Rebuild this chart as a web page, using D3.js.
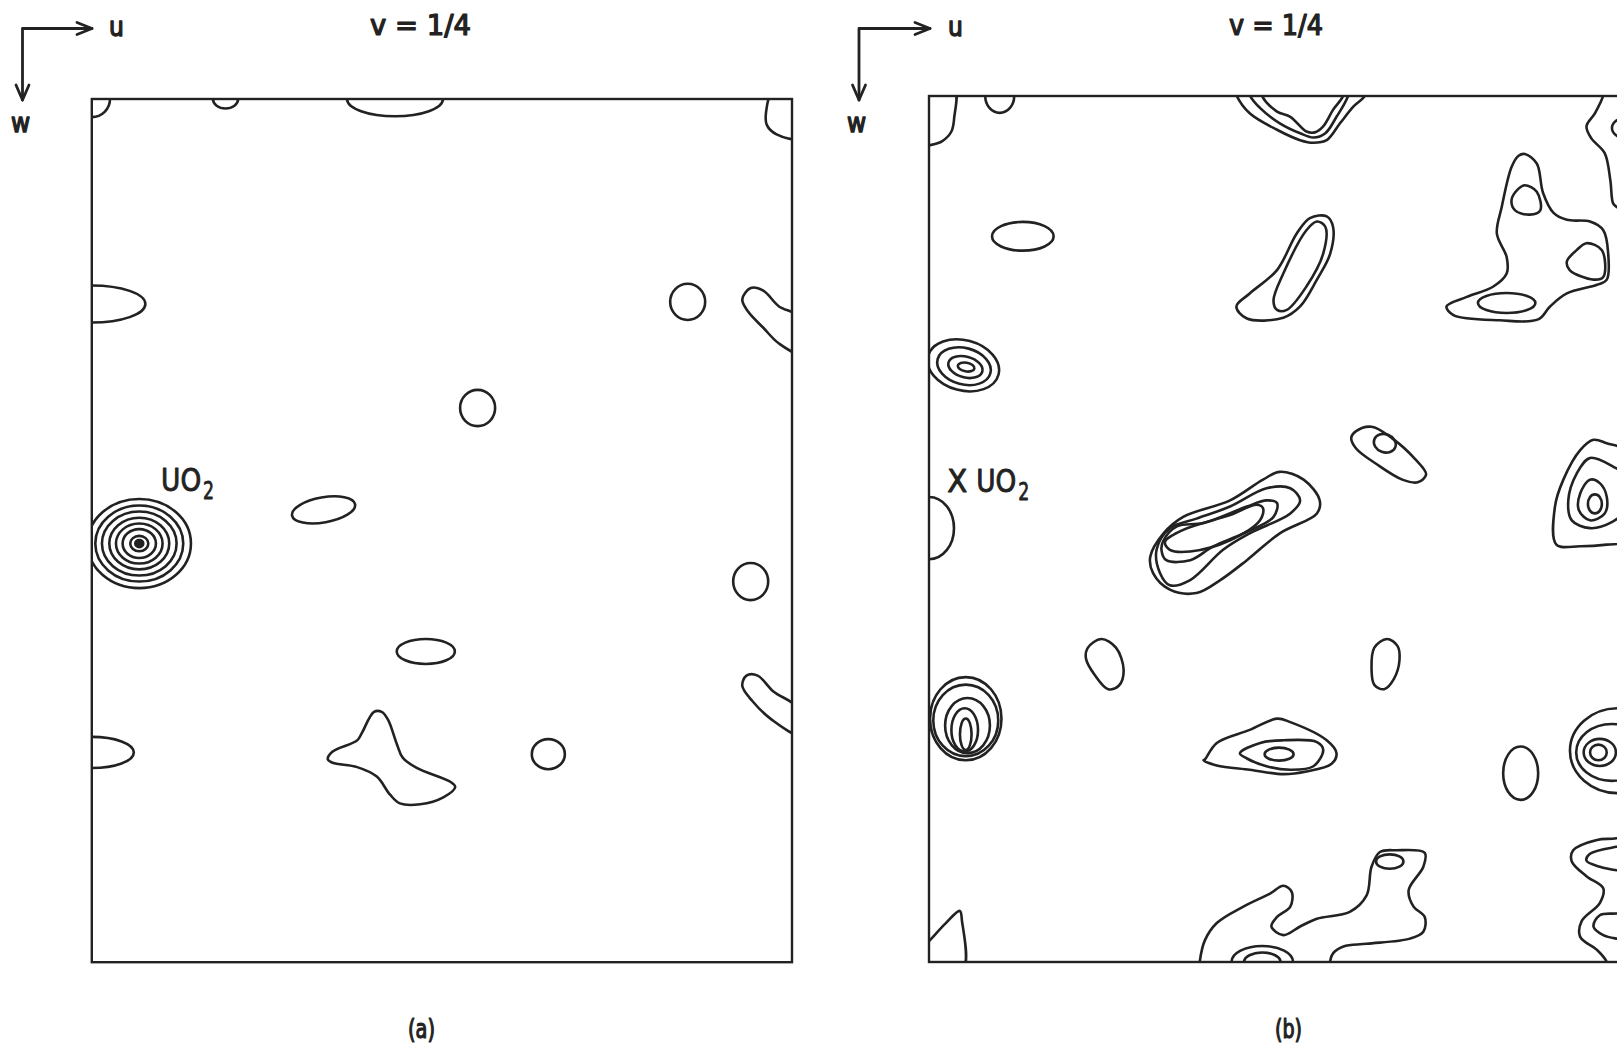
<!DOCTYPE html>
<html><head><meta charset="utf-8">
<script src="https://cdn.jsdelivr.net/npm/d3@7"></script>
<style>html,body{margin:0;padding:0;background:#fff;} svg{display:block;}</style>
</head><body>
<svg id="chart" width="1617" height="1046"></svg>
<script>
// ---------- DATA (u, w in percent of the map frame; u to the right, w downward) ----------
const panelNames = ["(a)", "(b)"];
const sectionLabel = "v = 1/4";
const axisLabels = ["u", "w"];
const markerLabelsA = [{pre: "", main: "UO", sub: "2", u: 9.9, w: 45.4}];
const markerLabelsB = [{pre: "X", main: "UO", sub: "2", u: 2.6, w: 45.7}];

// elliptical contours: [u, w, radius_u, radius_w, tilt]
const ellipsesA = [
  [0, 0, 2.6, 2.1, 0],
  [19.1, 0, 1.8, 1.1, 0],
  [43.3, 0, 6.85, 2.0, 0],
  [0, 23.75, 7.65, 2.15, 0],
  [85.1, 23.5, 2.5, 2.1, 0],
  [55.1, 35.8, 2.5, 2.1, 0],
  [33.1, 47.6, 4.57, 1.45, -10],
  [94.1, 55.9, 2.5, 2.15, 0],
  [47.7, 64.0, 4.15, 1.45, 0],
  [0, 75.7, 6.0, 1.8, 0],
  [65.2, 75.9, 2.36, 1.74, 0]
];
// UO2 peak, concentric levels
const peakA = [6.78, 51.5];
const peakRingsU = [0.57, 1.29, 2.38, 3.33, 4.28, 5.33, 6.28, 7.38];
const peakRingsW = [0.41, 0.89, 1.67, 2.32, 2.99, 3.71, 4.40, 5.16];

const pathsA = [
  [[101,-1],[97.3,-1],[96.3,1.5],[96.4,3],[97.8,4.1],[101,4.5]],
  [[101,25.3],[98.1,24.0],[95.9,22.2],[94.1,21.9],[92.9,23.2],[93.7,24.6],[95.9,26.5],[98.1,28.3],[101,29.4]],
  [[101,70.7],[97.3,68.6],[95.1,66.8],[93.5,66.8],[92.9,68.0],[94.4,69.8],[97.1,71.9],[101,73.6]],
  [[40.3,71.0],[38.6,73.4],[37.9,74.3],[34.4,75.6],[33.7,76.5],[34.4,76.9],[37.9,77.4],[40.7,78.5],[42.6,80.6],[44.0,81.6],[46.9,81.7],[50.2,80.9],[51.9,79.7],[51.2,79.1],[46.4,77.5],[44.4,76.3],[43.6,74.8],[42.3,71.9],[41.4,71.0]]
];

const ellipsesB = [
  [10.1, 0, 2.07, 1.95, 0],
  [13.4, 16.2, 4.4, 1.66, 0],
  [82.5, 23.9, 4.1, 1.15, 0],
  [99.4, 3.7, 1.86, 1.15, 0],
  [0, 49.9, 3.57, 3.6, 0],
  [4.9, 31.1, 5.2, 2.9, 15], [5.0, 31.2, 3.9, 2.1, 15], [5.2, 31.3, 2.5, 1.2, 15], [5.3, 31.3, 1.2, 0.5, 10],
  [5.25, 71.9, 5.1, 4.8, 0], [5.25, 72.1, 4.64, 4.13, 0], [5.5, 72.7, 3.2, 3.18, 0], [5.1, 73.2, 1.9, 2.5, 0], [5.25, 73.7, 0.83, 1.82, 0],
  [65.1, 40.1, 1.6, 1.05, 20],
  [50.0, 76.0, 2.07, 0.75, 0],
  [84.5, 78.2, 2.5, 3.08, 0],
  [98.4, 75.6, 6.86, 4.9, 0], [97.5, 75.8, 5.07, 3.28, 0], [95.8, 75.8, 2.3, 1.56, 0], [95.6, 75.8, 1.19, 0.9, 0],
  [95.1, 47.1, 1.0, 1.1, 0],
  [65.8, 88.4, 1.96, 0.83, 0],
  [47.6, 100, 4.4, 1.85, 0], [47.6, 100, 2.6, 1.1, 0]
];

const pathsB = [
  [[-1,-1],[3.6,-1],[3.6,2.5],[3.2,4.1],[1.9,5.2],[0,5.7],[-1,5.8]],
  [[43.9,-0.1],[45.8,2.0],[49.7,3.9],[53.0,5.1],[54.9,5.4],[56.8,5.1],[58.7,3.15],[60.6,1.24],[62.3,-0.1],[63,-3],[43,-3]],
  [[45.8,-0.1],[47.3,1.4],[50.1,3.15],[53.0,4.3],[54.9,4.8],[56.6,4.3],[58.2,2.4],[59.9,-0.1],[60.5,-3],[45,-3]],
  [[47.5,-0.1],[49.7,1.8],[51.6,2.4],[53.9,4.1],[55.1,4.2],[56.3,3.5],[57.7,1.6],[59.2,-0.1],[59.8,-3],[47,-3]],
  [[56.8,13.9],[57.7,15.1],[57.3,18.2],[55.4,21.2],[53.0,24.3],[50.6,25.6],[45.4,25.7],[43.9,24.3],[45.8,22.8],[49.7,20.1],[52.5,15.9],[54.4,14.1]],
  [[55.4,14.5],[56.6,15.1],[56.3,18.2],[53.9,22.0],[51.1,24.7],[49.7,24.7],[49.2,23.6],[50.6,20.5],[53.9,15.5]],
  [[85.1,6.7],[86.8,7.8],[87.7,11.2],[89.2,13.5],[91.1,14.3],[94.4,14.5],[96.3,15.5],[97.0,18.2],[96.8,21.2],[95.4,21.8],[91.1,22.8],[88.7,24.3],[87.0,25.8],[81.5,25.9],[74.9,25.3],[73.9,24.3],[76.8,23.2],[80.6,22.0],[82.5,20.5],[82.5,18.6],[81.1,15.9],[81.8,12.8],[83.2,8.2],[84.2,6.9]],
  [[85.1,10.3],[86.8,11.05],[87.3,13.2],[85.8,13.7],[83.7,13.2],[83.2,12.0],[84.2,10.7]],
  [[93.9,17.0],[96.1,17.8],[96.3,20.9],[94.9,21.2],[91.5,20.1],[91.1,19.1],[92.5,17.8]],
  [[96.3,-1],[96.3,-0.1],[95.1,2.0],[93.9,3.5],[94.6,4.9],[96.5,6.6],[97.3,9.7],[97.7,12.4],[98.2,12.8],[101.5,14],[101.5,-1]],
  [[61.0,38.7],[63.2,38.2],[66.1,39.5],[69.4,41.9],[71.0,43.7],[69.8,44.6],[67.6,44.3],[63.9,42.5],[61.0,40.7],[60.3,39.5]],
  [[31.6,53.2],[33.5,50.5],[36.3,48.6],[43.0,46.7],[47.7,44.3],[50.1,43.4],[53.5,44.3],[55.8,46.7],[55.4,48.2],[50.1,50.5],[45.4,53.6],[41.6,55.9],[38.2,57.4],[34.4,57.0],[32.0,55.1]],
  [[32.5,52.4],[34.4,49.9],[38.2,48.8],[43.0,47.4],[48.2,45.3],[51.6,45.3],[53.0,46.7],[51.6,48.2],[45.8,50.5],[42.0,52.4],[37.3,55.9],[34.4,56.5],[33.0,55.1]],
  [[33.5,51.3],[35.4,49.7],[39.2,49.3],[45.4,47.4],[48.2,46.7],[49.7,47.0],[49.2,48.6],[44.9,50.5],[40.6,52.0],[37.3,53.6],[33.9,53.6],[33.2,52.4]],
  [[33.7,51.5],[36.3,50.1],[43.0,48.4],[46.8,47.2],[47.7,47.6],[47.3,48.96],[43.0,51.3],[37.3,52.6],[34.4,52.4]],
  [[22.7,63.7],[24.6,62.7],[26.7,63.7],[27.8,66.3],[27.1,68.1],[25.6,68.5],[23.7,66.9],[22.4,64.9]],
  [[65.4,62.7],[66.9,63.5],[67.2,65.1],[66.4,67.3],[65.0,68.5],[63.6,68.0],[63.2,66.1],[63.6,63.7]],
  [[39.4,76.6],[41.1,74.7],[45.8,73.2],[49.7,71.9],[51.6,72.3],[56.8,74.4],[58.2,75.9],[57.5,77.1],[53.9,78.0],[50.6,78.3],[45.8,77.8],[41.1,77.3],[39.2,76.7]],
  [[44.4,75.9],[47.3,74.7],[50.6,74.4],[55.4,74.6],[56.3,75.5],[54.9,77.4],[51.6,77.8],[48.2,77.4],[45.4,76.5]],
  [[38.7,99.8],[39.4,97.5],[41.1,95.5],[44.9,93.6],[48.7,92.1],[50.6,91.2],[51.8,91.9],[51.6,93.6],[49.7,94.8],[48.9,95.9],[50.6,96.9],[53.0,95.9],[55.4,95.0],[60.1,94.2],[62.5,92.3],[63.2,89.0],[64.4,87.3],[66.8,87.1],[70.8,87.4],[70.6,89.0],[68.5,91.7],[69.2,93.6],[70.8,94.8],[70.6,96.5],[68.7,97.3],[62.5,97.9],[59.2,98.2],[57.7,99.0],[57.3,99.85],[57.2,102],[38.6,102]],
  [[-1,98.4],[0,97.6],[2.3,95.6],[4.4,94.1],[4.7,95.2],[4.8,101],[-1,101]],
  [[101.5,84.8],[98.2,85.7],[95.4,85.9],[92.0,87.1],[91.8,88.4],[93.9,90.1],[96.3,91.5],[95.8,93.2],[93.2,95.3],[93.0,97.1],[95.4,98.6],[96.8,100],[97.0,101.5],[101.5,101.5]],
  [[101.5,86.4],[98.2,86.7],[94.4,87.5],[93.9,88.3],[95.8,89.0],[98.2,89.4],[101.5,89.6]],
  [[101.5,94.2],[98.2,94.4],[95.8,94.6],[94.9,95.9],[96.3,96.9],[98.2,97.3],[101.5,97.5]],
  [[94.9,39.7],[93.0,40.9],[90.6,44.3],[89.4,47.4],[89.6,51.8],[93.0,52.0],[96.8,51.8],[100.1,51.3],[101.5,46.7],[100.1,41.2],[96.8,40.1]],
  [[94.4,41.8],[92.5,43.6],[91.3,46.7],[91.8,49.0],[94.4,49.9],[97.3,49.3],[99.4,47.8],[99.4,43.8],[97.7,42.8]],
  [[94.4,44.3],[93.0,45.9],[92.8,47.8],[94.4,49.0],[96.5,48.2],[96.8,46.3],[95.8,44.7]]
];

// ---------- DRAWING ----------
const INK = "#222";
const FONT = "'DejaVu Sans Condensed','DejaVu Sans',sans-serif";
const svg = d3.select("#chart");

const panels = [
  {key: "a", name: panelNames[0], x: [91.8, 792], y: [99, 962.2], ellipses: ellipsesA, paths: pathsA, peak: true, markers: markerLabelsA,
   arrow: {cx: 22.5, cy: 28.5, tx: 92, ty: 100}, uLab: 109, wLab: 11, title: 370, titleLen: 101, nameX: 408},
  {key: "b", name: panelNames[1], x: [929, 1629.2], y: [96, 962], ellipses: ellipsesB, paths: pathsB, peak: false, markers: markerLabelsB,
   arrow: {cx: 859, cy: 28.5, tx: 930, ty: 100}, uLab: 948, wLab: 847, title: 1229, titleLen: 94, nameX: 1275}
];

const defs = svg.append("defs");

panels.forEach(p => {
  const xs = d3.scaleLinear().domain([0, 100]).range(p.x);
  const ys = d3.scaleLinear().domain([0, 100]).range(p.y);
  const g = svg.append("g");

  defs.append("clipPath").attr("id", "clip-" + p.key)
    .append("rect").attr("x", p.x[0]).attr("y", p.y[0])
    .attr("width", p.x[1] - p.x[0]).attr("height", p.y[1] - p.y[0]);

  const cg = g.append("g").attr("clip-path", `url(#clip-${p.key})`)
    .attr("fill", "none").attr("stroke", INK).attr("stroke-width", 2.6)
    .attr("stroke-linejoin", "round");

  const ell = p.ellipses.slice();
  if (p.peak) peakRingsU.forEach((ru, i) => ell.push([peakA[0], peakA[1], ru, peakRingsW[i], 0]));

  cg.selectAll("ellipse").data(ell).join("ellipse")
    .attr("cx", d => xs(d[0])).attr("cy", d => ys(d[1]))
    .attr("rx", d => xs(d[0] + d[2]) - xs(d[0]))
    .attr("ry", d => ys(d[1] + d[3]) - ys(d[1]))
    .attr("transform", d => `rotate(${d[4]},${xs(d[0])},${ys(d[1])})`);

  if (p.peak) {
    cg.append("ellipse").attr("cx", xs(peakA[0])).attr("cy", ys(peakA[1]))
      .attr("rx", xs(0.3) - xs(0)).attr("ry", ys(0.25) - ys(0)).attr("fill", INK);
  }

  const line = d3.line().x(d => xs(d[0])).y(d => ys(d[1]))
    .curve(d3.curveCatmullRomClosed.alpha(0.5));
  cg.selectAll("path.c").data(p.paths).join("path").attr("class", "c").attr("d", line);

  // frame
  g.append("rect").attr("x", p.x[0]).attr("y", p.y[0])
    .attr("width", p.x[1] - p.x[0]).attr("height", p.y[1] - p.y[0])
    .attr("fill", "none").attr("stroke", INK).attr("stroke-width", 2.4);

  // axis arrows
  const a = p.arrow;
  const ag = g.append("g").attr("fill", "none").attr("stroke", INK).attr("stroke-width", 2.8)
    .attr("stroke-linecap", "round").attr("stroke-linejoin", "round");
  ag.append("path").attr("d", `M${a.tx},${a.cy} L${a.cx},${a.cy} L${a.cx},${a.ty}`);
  ag.append("path").attr("d", `M${a.tx - 15},${a.cy - 6} L${a.tx},${a.cy} L${a.tx - 15},${a.cy + 6}`);
  ag.append("path").attr("d", `M${a.cx - 6.5},${a.ty - 15} L${a.cx},${a.ty} L${a.cx + 6.5},${a.ty - 15}`);

  const txt = (x, y, s, size, sw) => g.append("text").attr("x", x).attr("y", y).text(s)
    .attr("font-family", FONT).attr("font-size", size).attr("fill", INK)
    .attr("stroke", INK).attr("stroke-width", sw).attr("stroke-linejoin", "round");

  txt(p.uLab, 36, axisLabels[0], 26, 1.3);
  txt(p.wLab, 132, axisLabels[1], 26, 1.3);
  txt(p.title, 34.5, sectionLabel, 28, 1.2).attr("textLength", p.titleLen).attr("lengthAdjust", "spacingAndGlyphs");
  txt(p.nameX, 1038, p.name, 27, 1.2).attr("textLength", 27).attr("lengthAdjust", "spacingAndGlyphs");

  p.markers.forEach(m => {
    const x0 = xs(m.u), y0 = ys(m.w);
    let x = x0;
    if (m.pre) { txt(x, y0, m.pre, 32, 0.9).attr("textLength", 20).attr("lengthAdjust", "spacingAndGlyphs"); x += 29; }
    txt(x, y0, m.main, 32, 0.9).attr("textLength", 40).attr("lengthAdjust", "spacingAndGlyphs");
    txt(x + 42, y0 + 8, m.sub, 25, 0.8).attr("textLength", 11).attr("lengthAdjust", "spacingAndGlyphs");
  });
});
</script>
</body></html>
